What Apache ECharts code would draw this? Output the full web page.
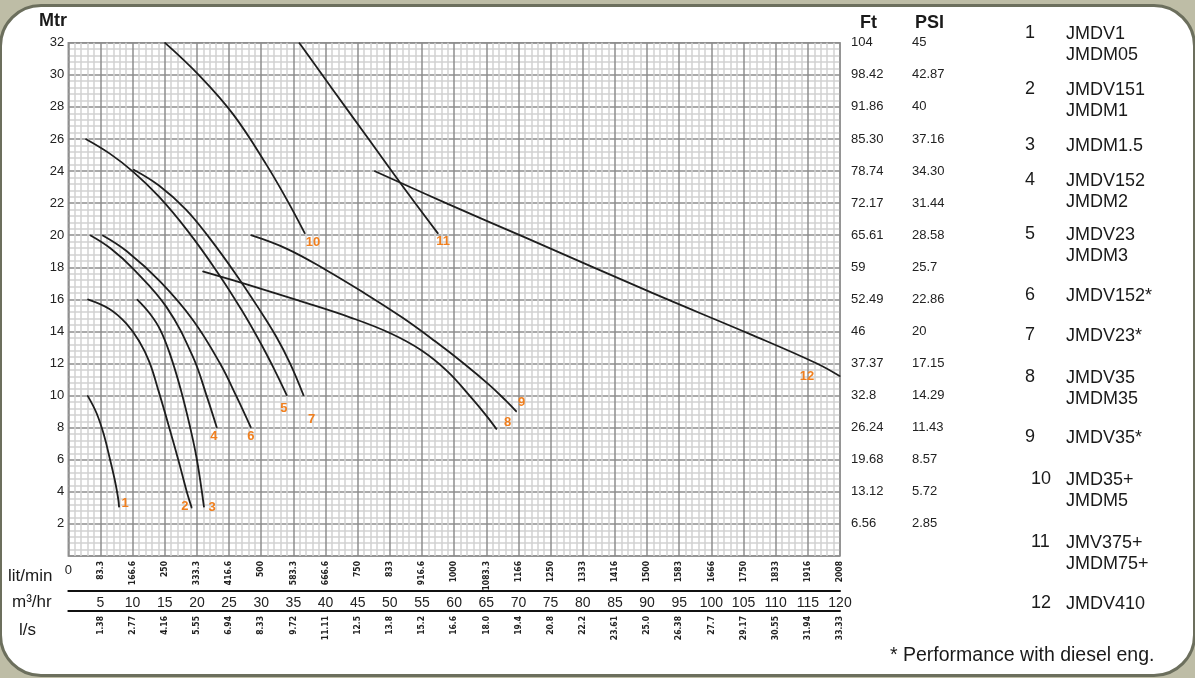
<!DOCTYPE html>
<html>
<head>
<meta charset="utf-8">
<script src="https://cdn.jsdelivr.net/npm/echarts@6/dist/echarts.min.js"></script>
<style>
  html, body { margin: 0; padding: 0; }
  body { width: 1195px; height: 678px; background: #bebda6; position: relative; overflow: hidden; }
  #frame { position: absolute; left: -1px; top: 4px; width: 1197px; height: 673px; box-sizing: border-box;
           border: 3px solid #6c6f5d; border-radius: 42px; background: #ffffff; }
  #chart { position: absolute; left: 0; top: 0; width: 1195px; height: 678px; }
</style>
</head>
<body>
<div id="frame"></div>
<div id="chart"></div>
<script>
// ---------- data ----------
const litMinLabels = ['83.3','166.6','250','333.3','416.6','500','583.3','666.6','750','833','916.6','1000',
  '1083.3','1166','1250','1333','1416','1500','1583','1666','1750','1833','1916','2008'];
const lsLabels = ['1.38','2.77','4.16','5.55','6.94','8.33','9.72','11.11','12.5','13.8','15.2','16.6',
  '18.0','19.4','20.8','22.2','23.61','25.0','26.38','27.7','29.17','30.55','31.94','33.33'];
const ftLabels = ['6.56','13.12','19.68','26.24','32.8','37.37','46','52.49','59','65.61','72.17','78.74',
  '85.30','91.86','98.42','104'];
const psiLabels = ['2.85','5.72','8.57','11.43','14.29','17.15','20','22.86','25.7','28.58','31.44','34.30',
  '37.16','40','42.87','45'];

const curve1  = [[3.0,10.0],[4.4,8.9],[5.5,7.6],[6.5,6.0],[7.3,4.6],[7.75,3.6],[7.9,3.05]];
const curve2  = [[3.0,16.0],[6.4,15.4],[9.0,14.5],[11.0,13.4],[12.6,12.1],[14.1,10.2],[15.7,8.0],[17.3,5.7],[18.5,3.9],[19.2,3.0]];
const curve3  = [[10.7,16.0],[12.7,15.1],[14.3,14.1],[15.8,12.6],[17.4,10.5],[18.9,8.1],[20.0,6.0],[21.1,3.05]];
const curve4  = [[3.4,20.0],[6.5,19.2],[10.1,17.9],[15.3,15.5],[19.4,12.4],[21.5,10.0],[23.1,8.0]];
const curve5  = [[2.7,26.0],[6.4,25.1],[10.1,23.95],[14.1,22.4],[18.5,20.3],[23.0,17.8],[27.0,15.3],[30.0,13.2],[32.2,11.5],[34.0,10.0]];
const curve6  = [[5.3,20.0],[9.1,19.0],[14.3,17.1],[19.4,14.7],[23.6,12.0],[26.2,9.9],[28.4,8.0]];
const curve7  = [[10.1,24.1],[14.1,23.1],[18.3,21.6],[22.0,19.8],[26.0,17.6],[29.5,15.5],[32.3,13.7],[34.5,12.0],[36.6,10.0]];
const curve8  = [[20.9,17.75],[28.0,16.9],[36.0,15.9],[44.0,14.85],[50.0,13.9],[55.0,12.8],[59.0,11.5],[62.5,9.95],[65.0,8.75],[66.6,7.9]];
const curve9  = [[28.4,20.0],[34.0,19.15],[40.0,17.85],[46.0,16.4],[52.0,14.85],[57.0,13.4],[61.5,12.0],[65.5,10.65],[68.0,9.7],[69.7,9.0]];
const curve10 = [[15.0,32.0],[20.5,29.9],[25.7,27.5],[30.8,24.4],[34.0,22.2],[36.8,20.1]];
const curve11 = [[35.9,32.0],[41.0,29.15],[46.5,26.1],[52.0,23.05],[57.5,20.1]];
const curve12 = [[47.6,24.0],[59.0,21.95],[71.1,19.85],[90.8,16.4],[106.2,13.8],[116.4,12.0],[120,11.2]];

const curveNames = ['1','2','3','4','5','6','7','8','9','10','11','12'];
const modelNames = [['JMDV1','JMDM05'],['JMDV151','JMDM1'],['JMDM1.5'],['JMDV152','JMDM2'],['JMDV23','JMDM3'],
  ['JMDV152*'],['JMDV23*'],['JMDV35','JMDM35'],['JMDV35*'],['JMD35+','JMDM5'],['JMV375+','JMDM75+'],['JMDV410']];
const footnote = '* Performance with diesel eng.';

// ---------- layout / style ----------
const curves = [curve1,curve2,curve3,curve4,curve5,curve6,curve7,curve8,curve9,curve10,curve11,curve12];
const labelOffsets = [[6,-4],[-7,-1],[8,0],[-3,9],[-3,13],[0,9],[8,24],[11,-7],[5,-9],[8,9],[5,8],[-33,0]];
const legendRowY = [34,90,146,181,235,296,336,378,438,480,543,604];
const narrowFont = '"DejaVu Sans Condensed","Liberation Sans Narrow","DejaVu Sans",sans-serif';
const mainFont = '"Liberation Sans",Arial,sans-serif';
const majorColor = '#8e8e8e', minorColor = '#d2d2d2';

const chart = echarts.init(document.getElementById('chart'), null, {renderer: 'canvas'});

const series = curves.map((c, i) => ({
  type: 'line',
  name: curveNames[i],
  xAxisIndex: 0, yAxisIndex: 0,
  smooth: 0.4,
  symbol: 'circle', symbolSize: 1, showSymbol: true,
  itemStyle: {color: '#1e1e1e'},
  lineStyle: {color: '#1e1e1e', width: 1.8},
  label: {show: false},
  emphasis: {disabled: true},
  silent: true,
  data: c.map((p, j) => j === c.length - 1 ? {
    value: p,
    label: {show: true, position: 'inside', formatter: curveNames[i], offset: labelOffsets[i],
            color: '#f07f1e', fontWeight: 'bold', fontSize: 13, fontFamily: mainFont}
  } : {value: p})
}));

const graphic = [
  {type: 'text', left: 39, top: 12, style: {text: 'Mtr', font: 'bold 18px ' + mainFont, fill: '#1a1a1a'}},
  {type: 'text', left: 860, top: 14, style: {text: 'Ft', font: 'bold 18px ' + mainFont, fill: '#1a1a1a'}},
  {type: 'text', left: 915, top: 14, style: {text: 'PSI', font: 'bold 18px ' + mainFont, fill: '#1a1a1a'}},
  {type: 'text', left: 8, top: 568, style: {text: 'lit/min', font: '17px ' + mainFont, fill: '#1a1a1a'}},
  {type: 'text', left: 12, top: 594, style: {text: 'm³/hr', font: '17px ' + mainFont, fill: '#1a1a1a'}},
  {type: 'text', left: 19, top: 622, style: {text: 'l/s', font: '17px ' + mainFont, fill: '#1a1a1a'}},
  {type: 'text', left: 890, top: 646, style: {text: footnote, font: '19.5px ' + mainFont, fill: '#1a1a1a'}}
];
modelNames.forEach((names, i) => {
  const num = curveNames[i];
  graphic.push({type: 'text', left: num.length > 1 ? 1031 : 1025, top: legendRowY[i] - 10,
    style: {text: num, font: '18px ' + mainFont, fill: '#1a1a1a'}});
  graphic.push({type: 'text', left: 1066, top: legendRowY[i] - 10,
    style: {text: names.join('\n'), font: '18px ' + mainFont, fill: '#1a1a1a', lineHeight: 21}});
});

const baseX = {type: 'value', min: 0, max: 120, interval: 5, gridIndex: 0, position: 'bottom'};

chart.setOption({
  animation: false,
  backgroundColor: 'transparent',
  grid: {left: 68.3, top: 42.7, right: 355, bottom: 122, show: true, borderColor: majorColor, borderWidth: 1.5,
         backgroundColor: 'transparent', containLabel: false},
  xAxis: [
    Object.assign({}, baseX, {
      axisLine: {show: false}, axisTick: {show: false},
      splitLine: {show: true, lineStyle: {color: majorColor, width: 1.5}},
      minorTick: {show: false, splitNumber: 5},
      minorSplitLine: {show: true, lineStyle: {color: minorColor, width: 1.5}},
      axisLabel: {rotate: 90, margin: 5, fontSize: 8.5, fontWeight: 'bold', fontFamily: narrowFont, color: '#222',
        formatter: v => v === 0 ? '' : (litMinLabels[Math.round(v / 5) - 1] || '')}
    }),
    Object.assign({}, baseX, {
      offset: 35,
      axisLine: {show: true, onZero: false, lineStyle: {color: '#111', width: 2}}, axisTick: {show: false},
      splitLine: {show: false},
      axisLabel: {margin: 5, fontSize: 14, fontFamily: mainFont, color: '#222',
        formatter: v => v === 0 ? '' : String(v)}
    }),
    Object.assign({}, baseX, {
      offset: 55,
      axisLine: {show: true, onZero: false, lineStyle: {color: '#111', width: 2}}, axisTick: {show: false},
      splitLine: {show: false},
      axisLabel: {rotate: 90, margin: 5, fontSize: 8.5, fontWeight: 'bold', fontFamily: narrowFont, color: '#222',
        formatter: v => v === 0 ? '' : (lsLabels[Math.round(v / 5) - 1] || '')}
    }),
    Object.assign({}, baseX, {
      interval: 120,
      axisLine: {show: false}, axisTick: {show: false}, splitLine: {show: false},
      axisLabel: {margin: 8, fontSize: 13, fontFamily: mainFont, color: '#222',
        formatter: v => v === 0 ? '0' : ''}
    })
  ],
  yAxis: [
    {type: 'value', min: 0, max: 32, interval: 2, position: 'left',
      axisLine: {show: false}, axisTick: {show: false},
      splitLine: {show: true, lineStyle: {color: majorColor, width: 1.5}},
      minorTick: {show: false, splitNumber: 5},
      minorSplitLine: {show: true, lineStyle: {color: minorColor, width: 1.5}},
      axisLabel: {margin: 4, fontSize: 13, fontFamily: mainFont, color: '#222',
        formatter: v => v === 0 ? '' : String(v)}
    },
    {type: 'value', min: 0, max: 32, interval: 2, position: 'right', offset: 0,
      axisLine: {show: false}, axisTick: {show: false}, splitLine: {show: false},
      axisLabel: {margin: 11, fontSize: 13, fontFamily: mainFont, color: '#222', align: 'left',
        formatter: v => v === 0 ? '' : (ftLabels[Math.round(v / 2) - 1] || '')}
    },
    {type: 'value', min: 0, max: 32, interval: 2, position: 'right', offset: 61,
      axisLine: {show: false}, axisTick: {show: false}, splitLine: {show: false},
      axisLabel: {margin: 11, fontSize: 13, fontFamily: mainFont, color: '#222', align: 'left',
        formatter: v => v === 0 ? '' : (psiLabels[Math.round(v / 2) - 1] || '')}
    }
  ],
  graphic: graphic,
  series: series
});
</script>
</body>
</html>
